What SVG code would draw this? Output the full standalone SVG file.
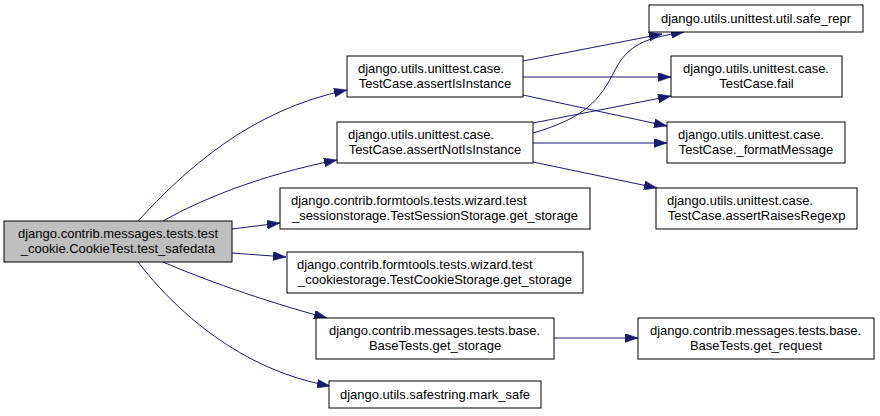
<svg xmlns="http://www.w3.org/2000/svg" width="880" height="416" viewBox="0 0 880 416">
<style>
  .n rect { fill: #ffffff; stroke: #000000; stroke-width: 1; }
  #main rect { fill: #bfbfbf; }
  text { font-family: "Liberation Sans", Arial, sans-serif; font-size: 13px; fill: #000000; }
  .m { text-anchor: middle; }
  .e path { fill: none; stroke: #191970; stroke-width: 1; marker-end: url(#arr); }
</style>
<defs>
  <marker id="arr" markerUnits="userSpaceOnUse" markerWidth="13" markerHeight="9" refX="13" refY="4.5" orient="auto">
    <path d="M0,0 L13,4.5 L0,9 z" fill="#191970" stroke="#191970" stroke-width="0.5"/>
  </marker>
</defs>
<g class="e" id="edges">
  <path d="M138,221 C185,170 250,110 347,90"/>
  <path d="M163,221 C200,200 260,175 337,160"/>
  <path d="M232,229 L280,223"/>
  <path d="M232,253 L286,257"/>
  <path d="M163,262 C200,278 260,300 327,318"/>
  <path d="M138,262 C175,310 240,370 330,386"/>
  <path d="M523,61 L662,34"/>
  <path d="M523,77 L671,77"/>
  <path d="M523,95 L667,126"/>
  <path d="M533,123 L671,96"/>
  <path d="M533,133 C585,118 600,100 615,70 C628,45 645,38 684,32"/>
  <path d="M533,143 L667,143"/>
  <path d="M533,162 L657,188"/>
  <path d="M554,338 L638,338"/>
</g>
<g class="n" id="main">
  <rect x="4" y="221" width="228" height="41"/>
  <text x="18" y="238">django.contrib.messages.tests.test</text>
  <text class="m" x="118" y="253">_cookie.CookieTest.test_safedata</text>
</g>
<g class="n" id="assertIsInstance">
  <rect x="347" y="56" width="176" height="41"/>
  <text x="358" y="73">django.utils.unittest.case.</text>
  <text class="m" x="435" y="88">TestCase.assertIsInstance</text>
</g>
<g class="n" id="assertNotIsInstance">
  <rect x="337" y="122" width="196" height="41"/>
  <text x="348" y="139">django.utils.unittest.case.</text>
  <text class="m" x="435" y="154">TestCase.assertNotIsInstance</text>
</g>
<g class="n" id="sessionstorage">
  <rect x="280" y="188" width="310" height="41"/>
  <text x="291" y="205">django.contrib.formtools.tests.wizard.test</text>
  <text class="m" x="435" y="220">_sessionstorage.TestSessionStorage.get_storage</text>
</g>
<g class="n" id="cookiestorage">
  <rect x="287" y="252" width="296" height="41"/>
  <text x="297" y="269">django.contrib.formtools.tests.wizard.test</text>
  <text class="m" x="435" y="284">_cookiestorage.TestCookieStorage.get_storage</text>
</g>
<g class="n" id="get_storage">
  <rect x="316" y="318" width="238" height="41"/>
  <text x="329" y="335">django.contrib.messages.tests.base.</text>
  <text class="m" x="435" y="350">BaseTests.get_storage</text>
</g>
<g class="n" id="mark_safe">
  <rect x="329" y="381" width="212" height="27"/>
  <text class="m" x="435" y="399">django.utils.safestring.mark_safe</text>
</g>
<g class="n" id="safe_repr">
  <rect x="649" y="5" width="214" height="27"/>
  <text class="m" x="756" y="23">django.utils.unittest.util.safe_repr</text>
</g>
<g class="n" id="fail">
  <rect x="671" y="56" width="171" height="41"/>
  <text x="683" y="73">django.utils.unittest.case.</text>
  <text class="m" x="756.5" y="88">TestCase.fail</text>
</g>
<g class="n" id="formatMessage">
  <rect x="667" y="122" width="178" height="41"/>
  <text x="678" y="139">django.utils.unittest.case.</text>
  <text class="m" x="756" y="154">TestCase._formatMessage</text>
</g>
<g class="n" id="assertRaisesRegexp">
  <rect x="656" y="188" width="201" height="41"/>
  <text x="667" y="205">django.utils.unittest.case.</text>
  <text class="m" x="756.5" y="220">TestCase.assertRaisesRegexp</text>
</g>
<g class="n" id="get_request">
  <rect x="638" y="318" width="236" height="41"/>
  <text x="650" y="335">django.contrib.messages.tests.base.</text>
  <text class="m" x="756" y="350">BaseTests.get_request</text>
</g>
</svg>
